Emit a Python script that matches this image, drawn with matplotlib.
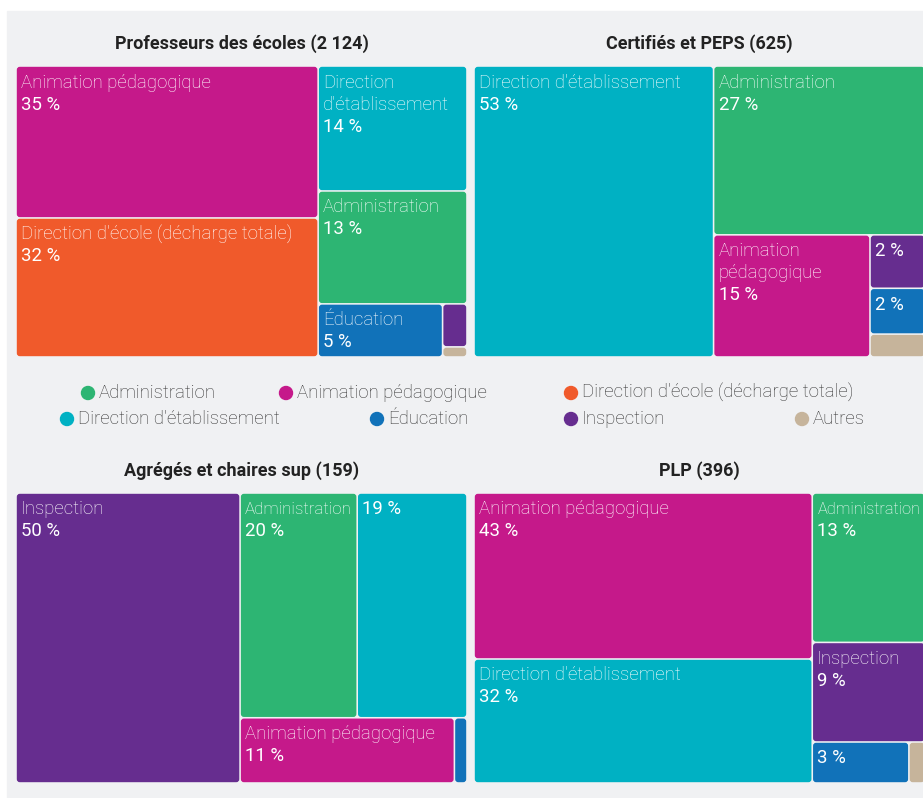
import matplotlib.pyplot as plt
from matplotlib.patches import FancyBboxPatch, Rectangle, Circle

W, H = 923, 798

categories = ["Administration", "Animation pédagogique", "Direction d'école (décharge totale)",
              "Direction d'établissement", "Éducation", "Inspection", "Autres"]
colors = ["#2db573", "#c5198a", "#f05a2b", "#00b1c3", "#1172b9", "#662d8f", "#c6b49b"]

titles = ["Professeurs des écoles", "Certifiés et PEPS", "Agrégés et chaires sup", "PLP"]
# head counts, same order as categories
pe_counts = [272, 743, 680, 301, 107, 17, 4]
certifies_counts = [170, 91, 0, 332, 12, 14, 6]
agreges_counts = [32, 17, 0, 30, 1, 79, 0]
plp_counts = [51, 170, 0, 127, 12, 34, 2]

PHI = (1 + 5 ** 0.5) / 2


def squarify(values, x0, y0, x1, y1, ratio=PHI):
    # same idea as d3.treemapSquarify
    rects = []
    value = sum(values)
    i0, n = 0, len(values)
    while i0 < n:
        dx, dy = x1 - x0, y1 - y0
        i1 = i0 + 1
        sum_v = min_v = max_v = values[i0]
        alpha = max(dy / dx, dx / dy) / (value * ratio)
        beta = sum_v * sum_v * alpha
        min_ratio = max(max_v / beta, beta / min_v)
        while i1 < n:
            v = values[i1]
            s = sum_v + v
            mn, mx = min(min_v, v), max(max_v, v)
            beta = s * s * alpha
            new_ratio = max(mx / beta, beta / mn)
            if new_ratio > min_ratio:
                break
            sum_v, min_v, max_v, min_ratio = s, mn, mx, new_ratio
            i1 += 1
        row = values[i0:i1]
        if dx < dy:
            h = dy * sum_v / value
            x = x0
            for v in row:
                w = dx * v / sum_v
                rects.append((x, y0, w, h))
                x += w
            y0 += h
        else:
            w = dx * sum_v / value
            y = y0
            for v in row:
                h = dy * v / sum_v
                rects.append((x0, y, w, h))
                y += h
            x0 += w
        value -= sum_v
        i0 = i1
    return rects


fig = plt.figure(figsize=(W / 100, H / 100), dpi=100)
fig.patch.set_facecolor("white")
fig.add_artist(Rectangle((7 / W, 0), 1, 1 - 11 / H, transform=fig.transFigure,
                         color="#f0f1f3", zorder=-5))
renderer = fig.canvas.get_renderer()

FONT = "Roboto"
LABEL_SIZE = 13.4


def text_width(s, size=LABEL_SIZE, **kw):
    t = fig.text(0, 0, s, family=FONT, fontsize=size, **kw)
    w = t.get_window_extent(renderer).width
    t.remove()
    return w


def wrap(s, avail):
    # greedy word wrap; a single word a bit too long gets a smaller font
    lines, cur = [], ""
    for word in s.split():
        ww = text_width(word, fontweight="light")
        if ww > 1.2 * avail:
            return []
        trial = (cur + " " + word).strip()
        if text_width(trial, fontweight="light") <= avail or not cur:
            cur = trial
        else:
            lines.append(cur)
            cur = word
    lines.append(cur)
    out = []
    for line in lines:
        lw = text_width(line, fontweight="light")
        out.append((line, LABEL_SIZE * min(1, avail / lw)))
    return out


panels = [(16, 66, 451, 291), (474, 66, 451, 291), (16, 493, 451, 290), (474, 493, 451, 290)]
all_counts = [pe_counts, certifies_counts, agreges_counts, plp_counts]

for (px, py, pw, ph), title, counts in zip(panels, titles, all_counts):
    ax = fig.add_axes([px / W, 1 - (py + ph) / H, pw / W, ph / H])
    ax.set_xlim(0, pw)
    ax.set_ylim(ph, 0)
    ax.axis("off")
    total = sum(counts)
    ax.text(pw / 2, -22.5, f"{title} ({total:,})".replace(",", " "), ha="center", va="center",
            family=FONT, fontweight="bold", fontsize=13, color="#222222", clip_on=False)

    items = sorted([(c, i) for i, c in enumerate(counts) if c > 0], reverse=True)
    rects = squarify([c for c, _ in items], 0, 0, pw, ph)
    for (c, i), (x, y, w, h) in zip(items, rects):
        ax.add_patch(FancyBboxPatch((x + 0.8, y + 0.8), max(w - 1.6, 0.1), max(h - 1.6, 0.1),
                                    boxstyle="round,pad=0,rounding_size=3",
                                    facecolor=colors[i], edgecolor="none", clip_on=False))
        pct = f"{round(c / total * 100)} %"
        avail = w - 10
        if text_width(pct) > avail or h < 30:
            continue
        name_lines = wrap(categories[i], avail)
        if 22 * (len(name_lines) + 1) + 8 > h:
            name_lines = []
        for k, (line, size) in enumerate(name_lines):
            ax.text(x + 5, y + 16.5 + 22 * k, line, color="white", family=FONT,
                    fontweight="light", fontsize=size, va="center", clip_on=False)
        ax.text(x + 5, y + 16.5 + 22 * len(name_lines), pct, color="white", family=FONT,
                fontsize=LABEL_SIZE, va="center", clip_on=False)

# legend (marker x, row y) in pixels
legend_pos = [(88, 393), (286, 393), (571, 393), (67, 419), (377, 419), (571, 419), (802, 419)]
lax = fig.add_axes([0, 0, 1, 1], zorder=-1)
lax.set_xlim(0, W)
lax.set_ylim(H, 0)
lax.axis("off")
for (mx, my), name, col in zip(legend_pos, categories, colors):
    lax.add_patch(Circle((mx, my), 6.5, color=col))
    lax.text(mx + 11, my, name, va="center", family=FONT, fontweight="light",
             fontsize=LABEL_SIZE, color="#333333")

fig.savefig("out.png", dpi=100, facecolor=fig.get_facecolor())
